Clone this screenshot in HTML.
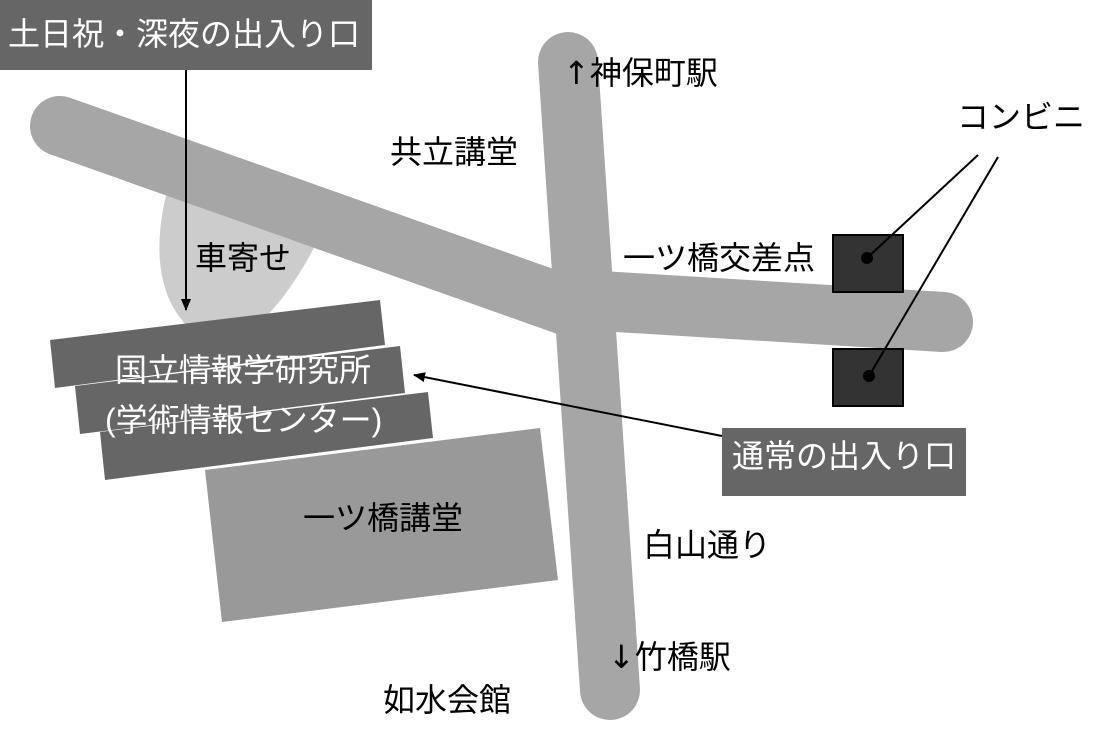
<!DOCTYPE html>
<html><head><meta charset="utf-8"><style>
html,body{margin:0;padding:0;background:#fff;}
svg{display:block;}
text{font-family:"Liberation Sans","Noto Sans CJK JP",sans-serif;font-size:32px;}
.ar{font-family:"DejaVu Sans",sans-serif;}
</style></head><body>
<svg width="1094" height="742" viewBox="0 0 1094 742" xmlns="http://www.w3.org/2000/svg">
<defs>
<marker id="ah" markerWidth="12" markerHeight="12" refX="11" refY="6" orient="auto" markerUnits="userSpaceOnUse">
<path d="M0,1 L12,6 L0,11 z" fill="#000"/>
</marker>
</defs>
<path d="M172,175 C152,235 152,305 200,336 C240,358 285,305 318,240 L310,205 Z" fill="#cccccc"/>
<g stroke="#a6a6a6" stroke-width="60" stroke-linecap="round" fill="none">
<line x1="60" y1="126" x2="585" y2="312"/>
<line x1="585" y1="300" x2="943" y2="322"/>
<line x1="568" y1="62" x2="610" y2="690"/>
</g>
<polygon points="50,340 380,300 385,345 55,388" fill="#666"/>
<polygon points="75,386 400,346 405,393 80,434" fill="#666"/>
<polygon points="100,432 428,392 433,438 105,480" fill="#666"/>
<polygon points="205,470 540,428 558,580 222,622" fill="#999"/>
<rect x="833" y="235" width="70" height="57" fill="#333" stroke="#000" stroke-width="2"/>
<rect x="833" y="349" width="70" height="57" fill="#333" stroke="#000" stroke-width="2"/>
<circle cx="867" cy="258" r="6" fill="#000"/>
<circle cx="869" cy="376" r="6" fill="#000"/>
<line x1="978" y1="155" x2="867" y2="258" stroke="#000" stroke-width="2"/>
<line x1="998" y1="157" x2="869" y2="376" stroke="#000" stroke-width="2"/>
<rect x="0" y="0" width="372" height="70" fill="#666"/>
<text x="8" y="45" fill="#fff" font-size="33">土日祝・深夜の出入り口</text>
<line x1="186" y1="70" x2="186" y2="310" stroke="#000" stroke-width="2" marker-end="url(#ah)"/>
<rect x="722" y="428" width="244" height="68" fill="#666"/>
<text x="732" y="467" fill="#fff">通常の出入り口</text>
<line x1="722" y1="436" x2="414" y2="375" stroke="#000" stroke-width="2" marker-end="url(#ah)"/>
<text x="563" y="84"><tspan class="ar">↑</tspan>神保町駅</text>
<text x="957" y="128">コンビニ</text>
<text x="390" y="163">共立講堂</text>
<text x="195" y="269">車寄せ</text>
<text x="623" y="269">一ツ橋交差点</text>
<text x="115" y="381" fill="#fff">国立情報学研究所</text>
<text x="105" y="431" fill="#fff">(学術情報センター)</text>
<text x="303" y="529">一ツ橋講堂</text>
<text x="643" y="556">白山通り</text>
<text x="608" y="668"><tspan class="ar">↓</tspan>竹橋駅</text>
<text x="383" y="711">如水会館</text>
</svg>
</body></html>
